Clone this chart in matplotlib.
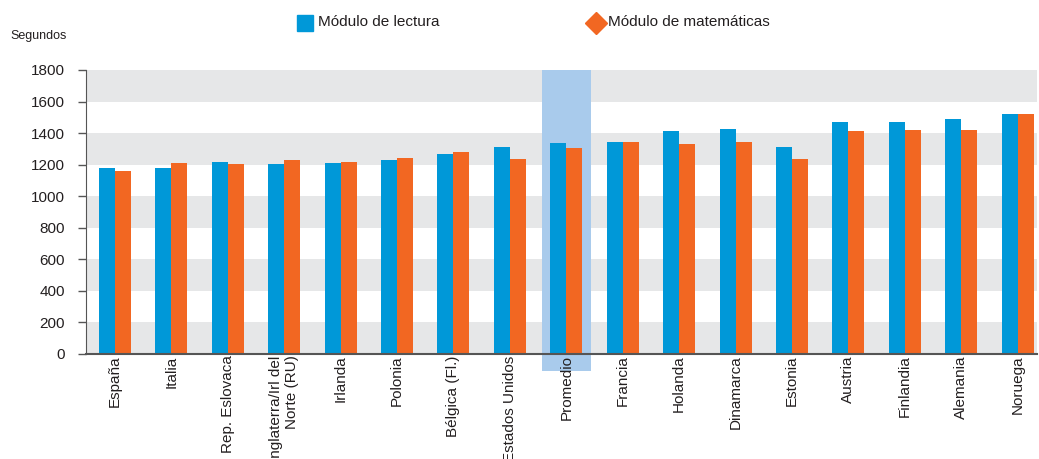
import matplotlib.pyplot as plt
import numpy as np
from matplotlib.patches import Rectangle
from matplotlib.lines import Line2D

plt.rcParams['font.family'] = ['Liberation Sans', 'DejaVu Sans']

# data
paises = ['España', 'Italia', 'Rep. Eslovaca', 'Inglaterra/Irl del\nNorte (RU)',
          'Irlanda', 'Polonia', 'Bélgica (Fl.)', 'Estados Unidos', 'Promedio',
          'Francia', 'Holanda', 'Dinamarca', 'Estonia', 'Austria', 'Finlandia',
          'Alemania', 'Noruega']
lectura = [1180, 1180, 1217, 1205, 1210, 1230, 1268, 1312, 1337,
           1343, 1413, 1426, 1312, 1470, 1470, 1489, 1521]
matematicas = [1160, 1210, 1205, 1230, 1217, 1243, 1280, 1236, 1305,
               1343, 1330, 1343, 1236, 1413, 1420, 1420, 1521]
yticks = [0, 200, 400, 600, 800, 1000, 1200, 1400, 1600, 1800]

azul = '#0098d8'
naranja = '#f26722'
gris = '#e6e7e8'
texto = '#231f20'

fig = plt.figure(figsize=(10.39, 4.59), dpi=100)
ax = fig.add_axes([0.0828, 0.2288, 0.9152, 0.6187])

x = np.arange(len(paises))
w = 0.283

# gray bands
for i in range(0, 1800, 400):
    ax.axhspan(i, i + 200, color=gris, lw=0, zorder=0)
ax.axhspan(1600, 1800, color=gris, lw=0, zorder=0)

# highlight average
idx = paises.index('Promedio')
ax.add_patch(Rectangle((idx - 0.43, -105), 0.86, 1905, color='#a9cbec', lw=0,
                       zorder=1, clip_on=False))

ax.bar(x - w / 2, lectura, w, color=azul, zorder=2)
ax.bar(x + w / 2, matematicas, w, color=naranja, zorder=2)

ax.set_xlim(-0.51, 16.34)
ax.set_ylim(0, 1800)
ax.set_yticks(yticks)
ax.set_yticklabels([str(t) for t in yticks], fontsize=11, color=texto)
ax.set_xticks(x)
ax.set_xticklabels(paises, rotation=90, fontsize=11, color=texto,
                   ha='center', va='top', multialignment='right')
ax.tick_params(axis='x', length=0, pad=1)
ax.tick_params(axis='y', length=6, width=1, color='#555555', pad=9)

for s in ['top', 'right']:
    ax.spines[s].set_visible(False)
ax.spines['left'].set_color('#555555')
ax.spines['bottom'].set_color('#555555')
ax.spines['bottom'].set_linewidth(1.5)
ax.spines['bottom'].set_zorder(3)

# legend
fig.add_artist(Line2D([0.2935], [0.9495], marker='s', markersize=11.5, color=azul,
                      linestyle='none', transform=fig.transFigure))
fig.text(0.306, 0.953, 'Módulo de lectura', fontsize=11, color=texto, va='center')
fig.add_artist(Line2D([0.5735], [0.95], marker='D', markersize=11, color=naranja,
                      linestyle='none', transform=fig.transFigure))
fig.text(0.585, 0.953, 'Módulo de matemáticas', fontsize=11, color=texto, va='center')

fig.text(0.0096, 0.922, 'Segundos', fontsize=9, color=texto, va='center')

plt.savefig('out.png', dpi=100)
